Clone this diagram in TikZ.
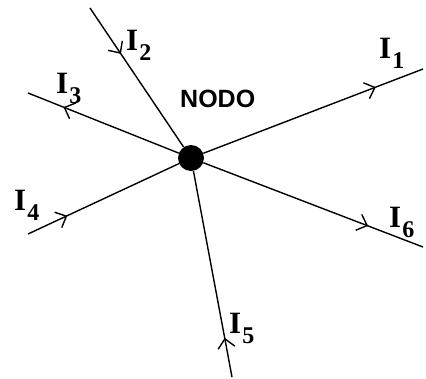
\documentclass[tikz,border=0pt]{standalone}
\usepackage{fontspec}
\setmainfont{Liberation Serif}
\newfontfamily\nodofont{Liberation Sans}
\usetikzlibrary{decorations.markings,arrows.meta}
\newcommand{\Ilab}[1]{{\fontsize{31}{31}\selectfont\bfseries I}\kern1pt\raisebox{-10pt}{\fontsize{24}{24}\selectfont\bfseries #1}}
\tikzset{
  wire/.style={line width=1.4pt, draw=black},
  midarrow/.style={postaction={decorate}, decoration={markings, mark=at position #1 with {\arrow{Straight Barb[length=9pt,width=17pt,line width=1.4pt]}}}},
  lbl/.style={anchor=base west, inner sep=0pt},
  hub/.style={circle, fill=black, minimum size=26pt, inner sep=0pt},
}
\begin{document}
\begin{tikzpicture}[x=1pt,y=-1pt]
\useasboundingbox (0,0) rectangle (426,378);
\node[hub] (n) at (191,158) {};
\coordinate (e1) at (423,69);
\coordinate (e2) at (90,8);
\coordinate (e3) at (28,93);
\coordinate (e4) at (28,234);
\coordinate (e5) at (232,377);
\coordinate (e6) at (423,247);
\draw[wire, midarrow=0.785] (n) -- (e1);
\draw[wire, midarrow=0.33] (e2) -- (n);
\draw[wire, midarrow=0.765] (n) -- (e3);
\draw[wire, midarrow=0.26] (e4) -- (n);
\draw[wire, midarrow=0.19] (e5) -- (n);
\draw[wire, midarrow=0.75] (n) -- (e6);
\node[lbl] (l1) at (379,58) {\Ilab{1}};
\node[lbl] (l2) at (126,50) {\Ilab{2}};
\node[lbl] (l3) at (56,93) {\Ilab{3}};
\node[lbl] (l4) at (14,210) {\Ilab{4}};
\node[lbl] (l5) at (229,333) {\Ilab{5}};
\node[lbl] (l6) at (389,227) {\Ilab{6}};
\node[lbl] (nodo) at (180,107) {\nodofont\bfseries\fontsize{25}{25}\selectfont NODO};
\end{tikzpicture}
\end{document}
